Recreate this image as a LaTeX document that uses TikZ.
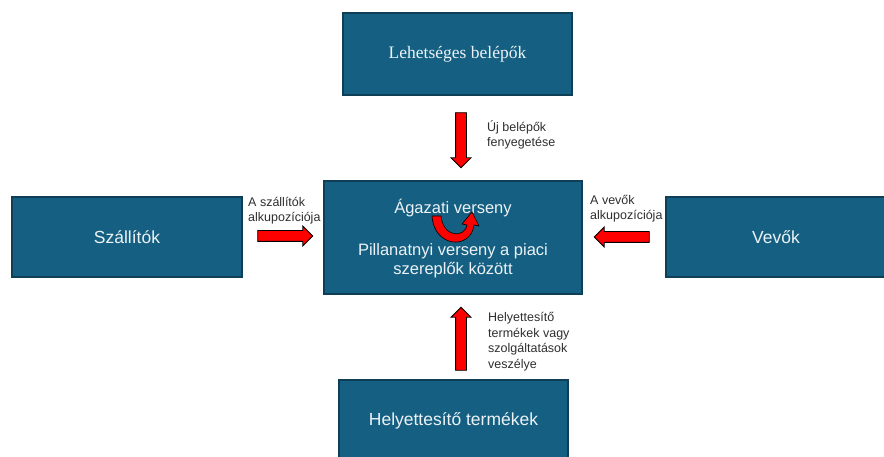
\documentclass[tikz,border=0pt]{standalone}
\usepackage{fontspec}
\setmainfont{Liberation Sans}
\newfontfamily\entrantfont{Liberation Serif}
\usetikzlibrary{shapes.arrows}

\definecolor{boxblue}{HTML}{156082}
\definecolor{boxline}{HTML}{0E3F57}
\definecolor{labelgray}{HTML}{2E2E2E}

\tikzset{
  forcebox/.style={draw=boxline, line width=1.2pt, fill=boxblue, inner sep=0pt},
  boxtext/.style={text=white!92!boxblue, align=center, inner sep=0pt,
    font=\fontsize{17.5}{21}\selectfont},
  pressure/.style={single arrow, draw=black, fill=red, line width=0.8pt,
    inner xsep=0pt, inner ysep=5pt, single arrow head extend=4.5pt,
    single arrow head indent=0pt},
  forcelabel/.style={anchor=west, align=left, text=labelgray, inner sep=0pt,
    font=\fontsize{12.5}{15.5}\selectfont}
}

\begin{document}
\begin{tikzpicture}[x=1pt, y=-1pt]
\useasboundingbox (0,0) rectangle (884,457);

% the five forces
\node[forcebox, minimum width=229pt, minimum height=82pt] (entrants) at (457.5,54) {};
\node[forcebox, minimum width=258pt, minimum height=113pt] (rivalry) at (453,237.5) {};
\node[forcebox, minimum width=230pt, minimum height=80pt] (suppliers) at (127,237) {};
\node[forcebox, minimum width=220pt, minimum height=80pt] (buyers) at (776,237) {};
\node[forcebox, minimum width=229pt, minimum height=82pt] (substitutes) at (453.5,421) {};

\node[boxtext, font=\entrantfont\fontsize{17.5}{21}\selectfont] (entrantstext) at (entrants) {Lehetséges belépők};
\node[boxtext] (supplierstext) at (suppliers) {Szállítók};
\node[boxtext] (buyerstext) at (buyers) {Vevők};
\node[boxtext] (substitutestext) at (453.5,421) {Helyettesítő termékek};
\node[boxtext, font=\fontsize{16.5}{19}\selectfont] (rivalrytitle) at (453,208) {Ágazati verseny};
\node[boxtext, font=\fontsize{16.5}{19}\selectfont] (rivalrytext) at (453,260.5) {Pillanatnyi verseny a piaci\\szereplők között};

% pressure arrows
\node[pressure, minimum height=55pt, rotate=-90] (entrythreat) at (461,137.5) {};
\node[pressure, minimum height=63pt, rotate=90] (substitutethreat) at (461,341.5) {};
\node[pressure, minimum height=55pt] (supplierpower) at (282.5,236) {};
\node[pressure, minimum height=55pt, rotate=180] (buyerpower) at (624.5,237) {};

\node[forcelabel] (entrylabel) at (487,135) {Új belépők\\fenyegetése};
\node[forcelabel] (supplierlabel) at (248,210.5) {A szállítók\\alkupozíciója};
\node[forcelabel] (buyerlabel) at (590,208.5) {A vevők\\alkupozíciója};
\node[forcelabel] (substitutelabel) at (488,341.5) {Helyettesítő\\termékek vagy\\szolgáltatások\\veszélye};

% rivalry loop
\draw[fill=red, line width=0.6pt] (432,216) .. controls (434,248) and (471,250) .. (474,225)
  -- (479,226) -- (472,212) -- (462,224) -- (467,225)
  .. controls (464,239) and (443,237) .. (441,216) -- cycle;

\end{tikzpicture}
\end{document}
